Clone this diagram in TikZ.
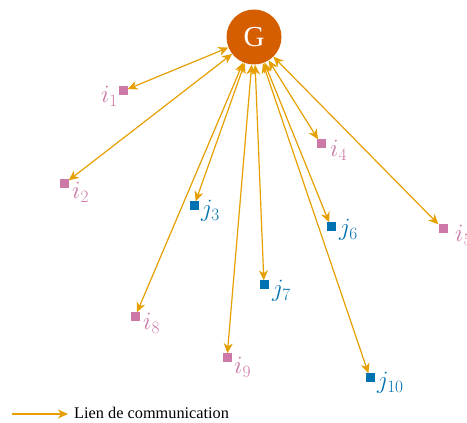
\documentclass[tikz,border=0pt]{standalone}
\usepackage{fontspec}
\setmainfont{Liberation Serif}
\usetikzlibrary{arrows.meta}
\definecolor{gcol}{RGB}{213,94,0}
\definecolor{acol}{RGB}{230,159,0}
\definecolor{icol}{RGB}{204,121,167}
\definecolor{jcol}{RGB}{0,114,178}
\tikzset{
  hub/.style={circle,fill=gcol,minimum size=55pt,inner sep=0pt,text=white,font=\fontsize{29}{31}\selectfont},
  isq/.style={rectangle,fill=icol,minimum size=9pt,inner sep=0pt},
  jsq/.style={rectangle,fill=jcol,minimum size=9pt,inner sep=0pt},
  ilab/.style={text=icol,font=\fontsize{24}{26}\selectfont,inner sep=0pt},
  jlab/.style={text=jcol,font=\fontsize{24}{26}\selectfont,inner sep=0pt},
  link/.style={draw=acol,line width=1.2pt,{Stealth[length=10pt,width=9pt,inset=3pt]}-{Stealth[length=10pt,width=9pt,inset=3pt]}},
  legarrow/.style={draw=acol,line width=1.2pt,-{Stealth[length=10pt,width=9pt,inset=3pt]}}
}
\begin{document}
\begin{tikzpicture}[x=1pt,y=1pt]
\useasboundingbox (0,0) rectangle (467,423);
\node[hub] (G) at (254,386) {G};
\node[isq] (i1) at (123,332) {};
\node[isq] (i2) at (64,239) {};
\node[jsq] (j3) at (194,217) {};
\node[isq] (i4) at (321,279) {};
\node[isq] (i5) at (443,194) {};
\node[jsq] (j6) at (331,196) {};
\node[jsq] (j7) at (264,138) {};
\node[isq] (i8) at (135,106) {};
\node[isq] (i9) at (227,65) {};
\node[jsq] (j10) at (370,45) {};
\node[ilab,anchor=east] (l1) at (118,327) {$i_1$};
\node[ilab,anchor=west] (l2) at (72,231) {$i_2$};
\node[jlab,anchor=west] (l3) at (201,212) {$j_3$};
\node[ilab,anchor=west] (l4) at (330,273) {$i_4$};
\node[ilab,anchor=west] (l5) at (455,188) {$i_5$};
\node[jlab,anchor=west] (l6) at (339,193) {$j_6$};
\node[jlab,anchor=west] (l7) at (272,132) {$j_7$};
\node[ilab,anchor=west] (l8) at (143,100) {$i_8$};
\node[ilab,anchor=west] (l9) at (234,56) {$i_9$};
\node[jlab,anchor=west] (l10) at (377,40) {$j_{10}$};
\foreach \n in {i1,i2,j3,i4,i5,j6,j7,i8,i9,j10}
  \draw[link] (G) -- (\n);
\coordinate (a0) at (12,9);
\coordinate (a1) at (68,9);
\draw[legarrow] (a0) -- (a1);
\node[anchor=west,font=\fontsize{16.3}{18}\selectfont,inner sep=0pt] (leg) at (74,10) {Lien de communication};
\end{tikzpicture}
\end{document}
